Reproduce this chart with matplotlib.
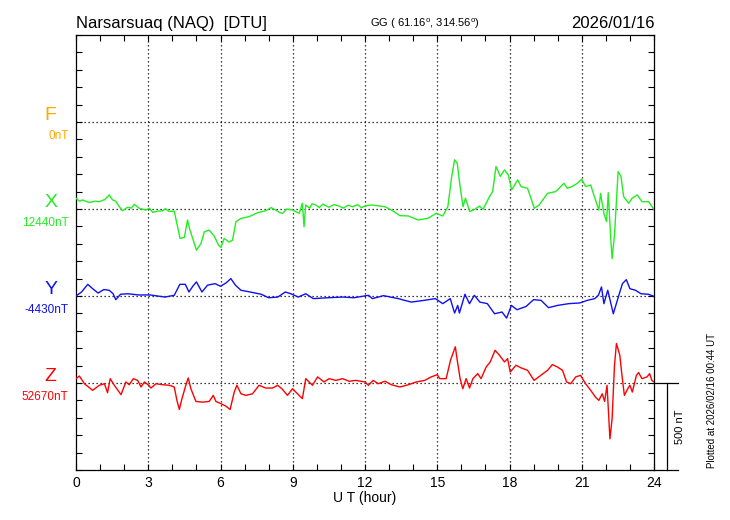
import matplotlib
matplotlib.use("Agg")
import matplotlib.pyplot as plt
from matplotlib.ticker import MultipleLocator

plt.rcParams['font.family'] = ['Liberation Sans', 'DejaVu Sans']
plt.rcParams['mathtext.fontset'] = 'custom'
plt.rcParams['mathtext.rm'] = 'Liberation Sans'

# === Data (hours UT, offset from baseline in nT) ===
X_HOURS = [0, 0.14, 0.28, 0.55, 0.8, 0.97, 1.2, 1.38, 1.52, 1.65, 1.8, 1.94, 2.14, 2.3, 2.42, 2.63, 2.9,
           3.05, 3.18, 3.4, 3.6, 3.72, 3.85, 4.08, 4.22, 4.32, 4.5, 4.63, 4.73, 4.87, 5.0, 5.19, 5.33,
           5.53, 5.74, 5.92, 6.02, 6.15, 6.36, 6.5, 6.64, 6.85, 7.19, 7.54, 7.88, 8.1, 8.3, 8.45, 8.58,
           8.75, 9.0, 9.27, 9.4, 9.47, 9.54, 9.7, 9.8, 9.96, 10.1, 10.25, 10.5, 10.7, 10.93, 11.1, 11.3,
           11.48, 11.7, 11.85, 12.0, 12.28, 12.83, 13.1, 13.45, 13.8, 14.2, 14.6, 14.96,
           15.23, 15.44, 15.6, 15.72, 15.83, 15.93, 16.07, 16.17, 16.35, 16.55, 16.76, 16.9, 17.17,
           17.3, 17.44, 17.62, 17.79, 17.95, 18.09, 18.34, 18.48, 18.75, 19.03, 19.23, 19.58, 19.92,
           20.26, 20.4, 20.6, 20.82, 21.0, 21.16, 21.37, 21.57, 21.71, 21.78, 21.92, 22.03, 22.1, 22.2,
           22.26, 22.36, 22.51, 22.63, 22.74, 22.95, 23.09, 23.3, 23.5, 23.78, 24.0]
X_NT = [62, 45, 52, 37, 45, 42, 55, 81, 52, 45, 13, -10, 10, 5, 27, 4, -6,
        4, -19, -12, -10, 2, -14, -12, -102, -169, -163, -63, -121, -179, -237, -198, -131,
        -121, -156, -208, -221, -169, -190, -179, -73, -54, -44, -21, -10, 8, -6, -20, -25,
        0, -6, -25, 33, -102, 23, 5, 30, 23, 8, 28, 10, 25, 17, 5, 22,
        13, 25, 8, 17, 23, 13, -6, -38, -40, -63, -54, -25,
        -40, 13, 187, 283, 263, 148, 13, 62, -15, -2, 17, -2, 71,
        100, 244, 187, 225, 196, 110, 167, 129, 119, 4, 23, 90, 100,
        148, 119, 129, 148, 171, 129, 138, 52, -6, 90, -25, -73, 94, -160,
        -285, -148, 215, 187, 71, 33, 62, 81, 42, 42, -2]

Y_HOURS = [0, 0.23, 0.49, 0.69, 0.92, 1.15, 1.38, 1.54, 1.65, 1.85, 2.15, 2.6, 3.08, 3.69, 4.08, 4.31,
           4.54, 4.69, 4.85, 5.0, 5.23, 5.46, 5.77, 6.0, 6.23, 6.43, 6.62, 6.85, 7.23, 7.69, 8.0, 8.38,
           8.69, 8.92, 9.23, 9.54, 9.85, 10.46, 11.08, 11.54, 12.15, 12.3, 12.77, 13.38, 13.92, 14.46,
           14.92, 15.23, 15.54, 15.72, 15.85, 15.92, 16.15, 16.34, 16.54, 16.77, 17.08, 17.38, 17.69,
           17.88, 18.08, 18.31, 18.69, 19.0, 19.31, 19.62, 20.0, 20.46, 20.92, 21.23, 21.54, 21.69,
           21.82, 21.92, 22.08, 22.31, 22.54, 22.69, 22.85, 23.0, 23.23, 23.46, 23.77, 24.0]
Y_NT = [0, 23, 67, 42, 17, 37, 33, 13, -21, 10, 13, 6, 6, -6, 4, 67,
        67, 23, 56, 81, 23, 62, 71, 56, 75, 100, 62, 33, 23, 10, -10, -6,
        23, 13, -6, 13, -15, -10, -6, -10, 4, -15, 2, -15, -35, -25,
        -15, -44, -15, -98, -54, -98, 10, -44, 4, -35, -44, -102, -92,
        -127, -54, -79, -60, -21, -25, -67, -54, -44, -40, -25, -15, 4,
        52, -44, 33, -102, 4, 71, 94, 42, 33, 13, 10, -2]

Z_HOURS = [0, 0.14, 0.35, 0.69, 0.97, 1.18, 1.31, 1.42, 1.59, 1.87, 2.07, 2.21, 2.38, 2.56, 2.7, 2.84,
           3.02, 3.11, 3.32, 3.6, 3.87, 4.08, 4.19, 4.29, 4.4, 4.56, 4.66, 4.77, 4.98, 5.26, 5.53, 5.7,
           5.81, 6.02, 6.22, 6.4, 6.57, 6.68, 6.85, 7.05, 7.33, 7.6, 7.88, 8.16, 8.37, 8.55, 8.78, 8.99,
           9.2, 9.4, 9.54, 9.82, 10.03, 10.3, 10.51, 10.79, 11.07, 11.34, 11.62, 12.0, 12.14, 12.34,
           12.55, 12.83, 13.1, 13.45, 13.8, 14.13, 14.48, 14.75, 15.0, 15.1, 15.37, 15.55, 15.65, 15.75,
           15.83, 15.95, 16.06, 16.2, 16.34, 16.48, 16.68, 16.82, 17.03, 17.2, 17.4, 17.58, 17.79, 17.92,
           18.03, 18.27, 18.48, 18.75, 19.02, 19.3, 19.58, 19.78, 19.99, 20.2, 20.37, 20.54, 20.75,
           20.95, 21.16, 21.37, 21.57, 21.71, 21.85, 21.95, 22.05, 22.17, 22.26, 22.36, 22.44, 22.58,
           22.67, 22.77, 22.91, 23.0, 23.1, 23.27, 23.36, 23.5, 23.71, 23.82, 23.91, 24.0]
Z_NT = [25, 40, -4, -42, -13, -4, -56, 25, -13, -67, 6, -10, 25, 15, -23, 6,
        -13, -29, -4, -10, -13, -23, -100, -152, -90, -13, 29, -33, -106, -110, -106, -71,
        -106, -119, -133, -152, -52, -13, -62, -71, -62, -13, -29, -29, -13, -33, -71, -33,
        -62, -90, 25, -13, 35, 6, 25, 15, 25, 10, 15, 6, -13, 15,
        -4, 10, -10, -23, -10, 6, 15, 35, 48, 25, 25, 131, 169, 208,
        131, 25, -33, 25, -29, 25, 54, 25, 92, 121, 188, 160, 121, 140,
        63, 102, 87, 73, 15, 44, 73, 106, 92, 73, 6, -4, 35,
        44, -4, -42, -81, -100, -62, -106, -13, -321, -206, 102, 227, 160,
        44, -71, -33, -13, -52, 44, 60, 25, 35, 54, 15, 6]

COMPONENTS = ['F', 'X', 'Y', 'Z']
BASE_VALUES = ['0nT', '12440nT', '-4430nT', '52670nT']
BASELINES = [2000, 1500, 1000, 500]
COLORS = ['#ffaa00', '#22ee22', '#1010f0', '#ff0000']

# === Figure ===
fig = plt.figure(figsize=(7.3, 5.2), dpi=100)
ax = fig.add_axes([76 / 730, 50 / 520, 578 / 730, 435 / 520])
ax.set_xlim(0, 24)
ax.set_ylim(0, 2500)

dots = (0, (1, 2.2))
for h in range(3, 24, 3):
    ax.axvline(h, color='k', lw=0.9, ls=dots, zorder=1)
for b in BASELINES:
    ax.axhline(b, color='k', lw=0.9, ls=dots, zorder=1)

ax.plot(X_HOURS, [BASELINES[1] + v for v in X_NT], color=COLORS[1], lw=1.0, zorder=3)
ax.plot(Y_HOURS, [BASELINES[2] + v for v in Y_NT], color=COLORS[2], lw=1.0, zorder=3)
ax.plot(Z_HOURS, [BASELINES[3] + v for v in Z_NT], color=COLORS[3], lw=1.0, zorder=3)

ax.xaxis.set_major_locator(MultipleLocator(3))
ax.xaxis.set_minor_locator(MultipleLocator(1))
ax.yaxis.set_major_locator(MultipleLocator(100))
ax.tick_params(which='both', direction='in', top=True, right=True, length=4, width=0.8)
ax.tick_params(axis='y', labelleft=False)
ax.tick_params(axis='x', labelsize=10, pad=4)
for s in ax.spines.values():
    s.set_linewidth(0.9)
ax.set_xlabel('U T (hour)', fontsize=10, labelpad=1)

# component labels on the left
for name, val, b, c in zip(COMPONENTS, BASE_VALUES, BASELINES, COLORS):
    ax.text(-1.05, b + 40, name, color=c, fontsize=14, ha='center', va='center', clip_on=False)
    ax.text(-0.31, b - 80, val, color=c, fontsize=8.5, ha='right', va='center', clip_on=False)

# scale bar on the right
ax.plot([24, 25], [500, 500], color='k', lw=0.9, clip_on=False)
ax.plot([24, 25], [0, 0], color='k', lw=0.9, clip_on=False)
ax.plot([24.54, 24.54], [0, 500], color='k', lw=0.9, clip_on=False)
ax.text(25.08, 250, '500 nT', rotation=90, fontsize=8, ha='center', va='center')

# header
fig.text(76 / 730, 1 - 28 / 520, 'Narsarsuaq (NAQ)  [DTU]', fontsize=12, ha='left', va='baseline')
fig.text(425 / 730, 1 - 27 / 520, r'GG ( 61.16$^{\rm o}$, 314.56$^{\rm o}$)', fontsize=8,
         ha='center', va='baseline')
fig.text(655 / 730, 1 - 28 / 520, '2026/01/16', fontsize=12, ha='right', va='baseline')
fig.text(712 / 730, 1 - 400 / 520, 'Plotted at 2026/02/16 00:44 UT', rotation=90, fontsize=7,
         ha='center', va='center')

fig.savefig('out.png', dpi=100)
